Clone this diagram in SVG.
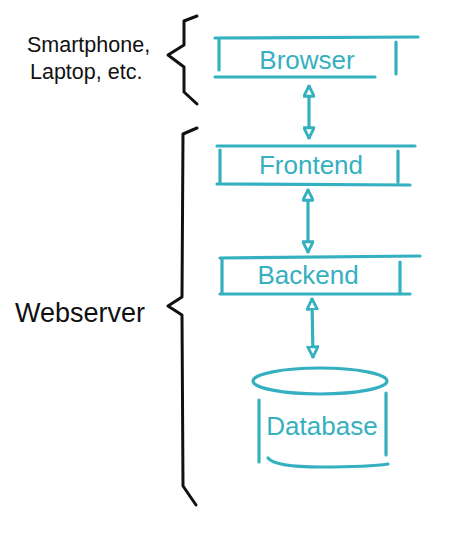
<svg xmlns="http://www.w3.org/2000/svg" width="474" height="546" viewBox="0 0 474 546">
<style>
.t{stroke:#35b0c0;stroke-width:3.2;fill:none;stroke-linecap:round;stroke-linejoin:round}
.k{stroke:#111;stroke-width:3;fill:none;stroke-linecap:round;stroke-linejoin:round}
.lt{fill:#35b0c0;font-family:"Liberation Sans",Arial,sans-serif;font-size:26px;text-anchor:middle}
.lk{fill:#111;font-family:"Liberation Sans",Arial,sans-serif;font-size:21.5px}
</style>
<defs>
<marker id="ah" viewBox="0 0 10 10" refX="9" refY="5" markerWidth="4" markerHeight="4" orient="auto-start-reverse" markerUnits="strokeWidth">
<path d="M1,1 L9,5 L1,9 Z" fill="#fff" stroke="#35b0c0" stroke-width="2.2" stroke-linejoin="round"/>
</marker>
</defs>
<rect width="474" height="546" fill="#fff"/>
<g id="labels">
<text class="lk" x="27" y="52">Smartphone,</text>
<text class="lk" x="30" y="79">Laptop, etc.</text>
<text class="lk" x="15" y="322" style="font-size:27px">Webserver</text>
</g>
<g id="braces">
<path class="k" d="M197,16 L184,21 L184,45 L168,55 L184,67 L184,92 L197,104"/>
<path class="k" d="M197,128 L183,134 L182,297 L168,306 L182,315 L183,486 L196,505"/>
</g>
<g id="browser">
<path class="t" d="M215,38 L418,37 M215,77 L375,77 M219,40 L219,70 M396,42 L396,74"/>
<text class="lt" x="307" y="69">Browser</text>
</g>
<g id="frontend">
<path class="t" d="M217,146 L415,146 M217,184 L410,185 M220,150 L220,183 M398,151 L398,182"/>
<text class="lt" x="311" y="174">Frontend</text>
</g>
<g id="backend">
<path class="t" d="M220,258 L420,256 M220,294 L410,294 M222,260 L222,292 M400,262 L400,292"/>
<text class="lt" x="308" y="284">Backend</text>
</g>
<g id="database">
<ellipse class="t" cx="320" cy="381" rx="67" ry="13"/>
<path class="t" d="M259,400 L259,462 M386,393 L386,455 M268,458 Q275,467 320,467 Q370,467 388,464"/>
<text class="lt" x="322" y="435">Database</text>
</g>
<g id="connectors">
<path class="t" d="M309,86 L309,138" marker-start="url(#ah)" marker-end="url(#ah)"/>
<path class="t" d="M308,190 L308,252" marker-start="url(#ah)" marker-end="url(#ah)"/>
<path class="t" d="M312,299 L313,357" marker-start="url(#ah)" marker-end="url(#ah)"/>
</g>
</svg>
